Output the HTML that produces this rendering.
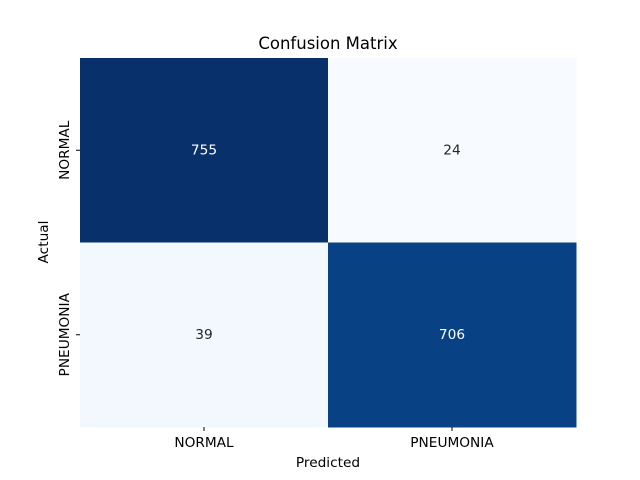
<!DOCTYPE html>
<html><head><meta charset="utf-8"><style>body{margin:0;background:#fff}svg{display:block}</style></head>
<body>
<svg id="chart" width="640" height="480" xmlns="http://www.w3.org/2000/svg" font-family="'DejaVu Sans','Liberation Sans',sans-serif">
<text x="328" y="49" font-size="16.5" text-anchor="middle" fill="#000">Confusion Matrix</text>
<g id="cells"></g>
<text x="328" y="467" font-size="13.7" text-anchor="middle">Predicted</text>
<text transform="translate(48,242) rotate(-90)" font-size="13.7" text-anchor="middle">Actual</text>
</svg>
<script>
const rowLabels = ["NORMAL", "PNEUMONIA"];
const colLabels = ["NORMAL", "PNEUMONIA"];
const values = [[755, 24], [39, 706]];

const L = 80, R = 576, T = 58, B = 427;
const svg = document.getElementById('chart');
const g = document.getElementById('cells');
const NS = 'http://www.w3.org/2000/svg';
const cw = (R - L) / colLabels.length, ch = (B - T) / rowLabels.length;
const flat = values.flat();
const vmin = Math.min(...flat), vmax = Math.max(...flat);
const stops = [[0,[247,251,255]],[0.125,[222,235,247]],[0.25,[198,219,239]],[0.375,[158,202,225]],[0.5,[107,174,214]],[0.625,[66,146,198]],[0.75,[33,113,181]],[0.875,[8,81,156]],[1,[8,48,107]]];
function blues(t){for(let i=1;i<stops.length;i++){if(t<=stops[i][0]){const a=stops[i-1],b=stops[i];const f=(t-a[0])/(b[0]-a[0]);return 'rgb('+a[1].map((c,k)=>Math.round(c+(b[1][k]-c)*f)).join(',')+')';}}return 'rgb(8,48,107)';}
function xs(j){return L + j*cw;}
function ys(i){return T + i*ch;}
values.forEach((row,i)=>row.forEach((v,j)=>{
  const t=(v-vmin)/(vmax-vmin);
  const r=document.createElementNS(NS,'rect');
  r.setAttribute('x',xs(j));r.setAttribute('y',ys(i));r.setAttribute('width',cw+0.5);r.setAttribute('height',ch+0.5);
  r.setAttribute('fill',blues(t));
  
  
  g.appendChild(r);
  const tx=document.createElementNS(NS,'text');
  tx.setAttribute('x',xs(j)+cw/2);tx.setAttribute('y',ys(i)+ch/2+4);
  tx.setAttribute('text-anchor','middle');tx.setAttribute('font-size','13.7');
  tx.setAttribute('fill',t>0.5?'#fff':'#262626');
  tx.textContent=v;
  
  
  g.appendChild(tx);
}));
colLabels.forEach((lab,j)=>{
  const x=xs(j)+cw/2;
  const l=document.createElementNS(NS,'line');
  l.setAttribute('x1',x);l.setAttribute('x2',x);l.setAttribute('y1',B);l.setAttribute('y2',B+4);l.setAttribute('stroke','#000');
  
  
  svg.appendChild(l);
  const t=document.createElementNS(NS,'text');
  t.setAttribute('x',x);t.setAttribute('y',B+20);t.setAttribute('text-anchor','middle');t.setAttribute('font-size','13.7');
  t.textContent=lab;
  
  
  svg.appendChild(t);
});
rowLabels.forEach((lab,i)=>{
  const y=ys(i)+ch/2;
  const l=document.createElementNS(NS,'line');
  l.setAttribute('x1',L-4);l.setAttribute('x2',L);l.setAttribute('y1',y);l.setAttribute('y2',y);l.setAttribute('stroke','#000');
  
  
  svg.appendChild(l);
  const t=document.createElementNS(NS,'text');
  t.setAttribute('transform','translate('+(L-11)+','+y+') rotate(-90)');
  t.setAttribute('text-anchor','middle');t.setAttribute('font-size','13.7');
  t.textContent=lab;
  
  
  svg.appendChild(t);
});
</script>
</body></html>
